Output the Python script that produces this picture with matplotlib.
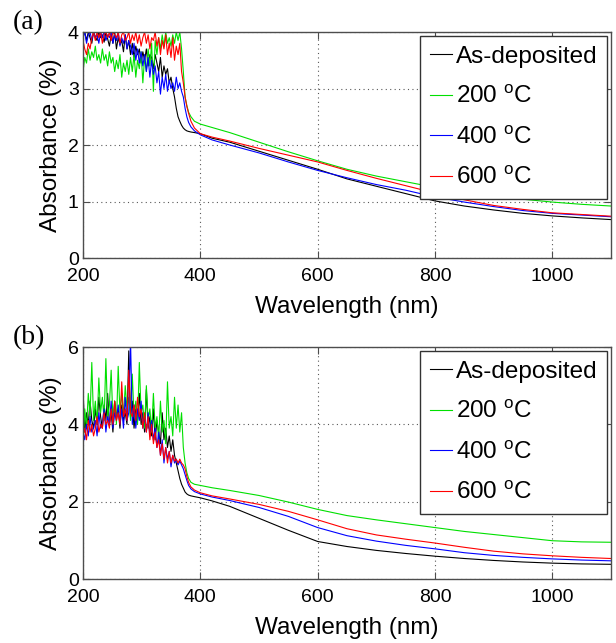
import numpy as np
import matplotlib
matplotlib.use("Agg")
import matplotlib.pyplot as plt

plt.rcParams['font.family'] = ['Liberation Sans', 'DejaVu Sans']
plt.rcParams['mathtext.fontset'] = 'custom'
plt.rcParams['mathtext.rm'] = 'Liberation Sans'

# noisy UV part (200-371 nm, step 3) and smooth part (374-1100 nm)
wl_noisy = list(range(200, 372, 3))
wl_smooth = [374, 377, 380, 384, 390, 400, 420, 450, 500, 550, 600, 650,
             700, 750, 800, 850, 900, 950, 1000, 1050, 1100]

labels = ['As-deposited', '200 $^{\\mathrm{o}}$C', '400 $^{\\mathrm{o}}$C', '600 $^{\\mathrm{o}}$C']
colors = ['black', '#00e000', '#0000ff', '#ff0000']

# ---- panel (a)
a_dep_noisy = [3.95, 4.0, 3.85, 4.0, 3.9, 3.8, 4.0, 3.92, 3.85, 4.0,
               3.9, 3.95, 3.82, 4.0, 3.88, 3.75, 3.95, 3.8, 4.0, 3.7,
               3.9, 3.78, 3.85, 3.65, 3.95, 3.7, 3.85, 3.6, 3.8, 3.55,
               3.75, 3.6, 3.7, 3.45, 3.65, 3.5, 3.7, 3.4, 3.6, 3.55,
               3.35, 3.6, 3.45, 3.3, 3.55, 3.2, 3.4, 3.25, 3.35, 3.1,
               3.2, 3.0, 2.85, 2.65, 2.5, 2.42, 2.35, 2.3]
a_dep_smooth = [2.27, 2.25, 2.24, 2.23, 2.22, 2.2, 2.12, 2.05, 1.89, 1.73, 1.57, 1.4,
                1.27, 1.14, 1.01, 0.92, 0.85, 0.79, 0.745, 0.71, 0.68]
a_200_noisy = [3.3, 3.55, 3.45, 3.7, 3.5, 3.65, 3.55, 3.75, 3.5, 3.6,
               3.45, 3.7, 3.5, 3.6, 3.4, 3.65, 3.45, 3.55, 3.3, 3.5,
               3.35, 3.6, 3.2, 3.45, 3.3, 3.5, 3.25, 3.55, 3.3, 3.6,
               3.2, 3.5, 3.35, 3.65, 3.1, 3.55, 3.3, 3.7, 3.4, 3.8,
               2.95, 3.85, 3.6, 3.9, 3.7, 3.95, 3.75, 4.0, 3.8, 3.9,
               3.75, 3.95, 3.8, 4.0, 3.85, 4.0, 3.7, 3.3]
a_200_smooth = [2.85, 2.7, 2.58, 2.5, 2.42, 2.37, 2.31, 2.22, 2.05, 1.88, 1.72, 1.57,
                1.45, 1.35, 1.25, 1.17, 1.1, 1.04, 0.99, 0.95, 0.92]
a_400_noisy = [3.9, 4.0, 3.8, 3.95, 4.0, 3.85, 4.0, 3.9, 3.95, 3.8,
               4.0, 3.9, 4.0, 3.85, 3.95, 3.9, 4.0, 3.8, 3.95, 3.85,
               4.0, 3.75, 3.9, 3.8, 3.95, 3.7, 3.85, 3.75, 3.6, 3.8,
               3.5, 3.7, 3.45, 3.65, 3.4, 3.6, 3.3, 3.55, 3.2, 3.5,
               3.25, 3.4, 3.1, 3.3, 2.9, 3.2, 3.0, 3.25, 2.95, 3.15,
               3.0, 3.1, 2.95, 3.2, 3.0, 3.1, 2.95, 2.85]
a_400_smooth = [2.65, 2.5, 2.4, 2.32, 2.25, 2.18, 2.09, 2.0, 1.86, 1.7, 1.55, 1.42,
                1.3, 1.2, 1.08, 0.99, 0.91, 0.84, 0.79, 0.76, 0.73]
a_600_noisy = [3.85, 3.7, 3.6, 3.8, 3.7, 3.9, 4.0, 3.85, 4.0, 3.9,
               4.0, 3.8, 3.95, 4.0, 3.9, 4.0, 3.85, 4.0, 3.95, 3.9,
               4.0, 3.8, 3.95, 4.0, 3.85, 3.9, 4.0, 3.8, 3.95, 3.85,
               4.0, 3.8, 3.95, 3.75, 3.9, 4.0, 3.8, 3.95, 3.7, 3.9,
               3.85, 4.0, 3.75, 3.9, 3.6, 3.85, 3.7, 3.95, 3.6, 3.8,
               3.55, 3.9, 3.5, 3.75, 3.6, 3.8, 3.3, 3.1]
a_600_smooth = [2.85, 2.68, 2.56, 2.42, 2.3, 2.2, 2.14, 2.07, 1.94, 1.82, 1.7, 1.55,
                1.41, 1.28, 1.15, 1.03, 0.93, 0.86, 0.8, 0.77, 0.74]

# ---- panel (b)
b_dep_noisy = [4.9, 3.8, 4.3, 4.0, 4.6, 4.1, 3.9, 4.4, 4.0, 4.7,
               4.2, 3.9, 4.5, 4.1, 4.8, 4.0, 4.3, 3.8, 4.6, 4.2,
               4.4, 3.9, 4.5, 4.1, 4.3, 4.0, 5.9, 4.2, 4.6, 3.9,
               4.4, 4.1, 4.8, 4.0, 4.3, 3.8, 4.9, 3.9, 4.2, 3.7,
               4.4, 3.6, 4.1, 3.8, 3.5, 4.3, 3.6, 3.9, 3.4, 3.7,
               3.3, 3.6, 3.2, 3.0, 2.8, 2.6, 2.45, 2.35]
b_dep_smooth = [2.25, 2.2, 2.17, 2.15, 2.13, 2.1, 2.02, 1.88, 1.57, 1.26, 0.97, 0.84,
                0.74, 0.66, 0.59, 0.53, 0.48, 0.44, 0.41, 0.39, 0.38]
b_200_noisy = [3.4, 4.4, 3.9, 4.8, 4.2, 5.6, 4.1, 4.6, 4.0, 5.2,
               4.3, 4.7, 4.1, 5.7, 4.2, 4.5, 5.4, 4.1, 4.6, 4.0,
               5.5, 4.3, 4.8, 4.2, 5.0, 4.4, 4.7, 4.1, 5.3, 4.2,
               4.6, 4.0, 5.6, 4.3, 4.5, 3.9, 5.0, 4.1, 4.4, 3.8,
               4.8, 3.9, 4.2, 3.6, 4.6, 3.8, 4.1, 3.5, 5.1, 3.9,
               4.2, 3.7, 4.7, 3.9, 4.5, 3.8, 4.3, 3.4]
b_200_smooth = [3.0, 2.75, 2.6, 2.5, 2.45, 2.42, 2.36, 2.29, 2.16, 1.99, 1.8, 1.64,
                1.53, 1.43, 1.33, 1.23, 1.15, 1.07, 0.99, 0.96, 0.95]
b_400_noisy = [3.8, 3.6, 4.0, 3.7, 4.2, 3.8, 3.9, 4.1, 3.7, 4.3,
               3.9, 4.0, 4.4, 3.8, 4.2, 4.0, 4.6, 3.9, 4.3, 4.1,
               4.5, 4.0, 4.4, 3.9, 4.7, 4.1, 4.3, 6.2, 4.0, 4.5,
               3.9, 4.4, 4.1, 4.6, 3.9, 4.2, 3.8, 4.3, 3.7, 4.1,
               3.6, 3.9, 3.4, 3.8, 3.2, 3.6, 3.0, 3.4, 3.1, 3.3,
               2.9, 3.2, 3.0, 3.1, 2.95, 3.05, 2.95, 2.85]
b_400_smooth = [2.7, 2.55, 2.42, 2.33, 2.26, 2.2, 2.12, 2.03, 1.85, 1.62, 1.33, 1.12,
                0.98, 0.87, 0.78, 0.68, 0.61, 0.56, 0.52, 0.49, 0.47]
b_600_noisy = [3.7, 3.9, 3.6, 4.1, 3.8, 4.0, 3.7, 3.9, 4.2, 3.8,
               4.0, 3.9, 4.3, 4.0, 4.1, 3.9, 4.4, 4.0, 4.6, 4.1,
               4.3, 4.0, 5.1, 4.2, 4.4, 4.1, 5.4, 4.3, 4.2, 4.5,
               4.1, 4.7, 4.2, 4.4, 3.9, 4.3, 3.8, 4.2, 3.6, 4.0,
               3.5, 3.8, 3.4, 3.6, 3.2, 3.5, 3.1, 3.4, 3.0, 3.3,
               3.0, 3.2, 3.05, 3.1, 3.0, 3.1, 3.0, 2.95]
b_600_smooth = [2.85, 2.65, 2.5, 2.38, 2.3, 2.23, 2.15, 2.07, 1.93, 1.75, 1.53, 1.3,
                1.14, 1.03, 0.93, 0.82, 0.72, 0.65, 0.6, 0.56, 0.53]

panels = [
    ('(a)', 4, [0, 1, 2, 3, 4],
     [(a_dep_noisy, a_dep_smooth), (a_200_noisy, a_200_smooth),
      (a_400_noisy, a_400_smooth), (a_600_noisy, a_600_smooth)]),
    ('(b)', 6, [0, 2, 4, 6],
     [(b_dep_noisy, b_dep_smooth), (b_200_noisy, b_200_smooth),
      (b_400_noisy, b_400_smooth), (b_600_noisy, b_600_smooth)]),
]

W, H = 616, 643
fig = plt.figure(figsize=(W / 100, H / 100), dpi=100)

# axes boxes in pixels: left, top, right, bottom
boxes = [(83, 32, 611, 258), (83, 347, 611, 579)]
spine_c = '0.3'

wl = wl_noisy + wl_smooth
for (tag, ymax, yt, series), (l, t, r, b) in zip(panels, boxes):
    ax = fig.add_axes([l / W, 1 - b / H, (r - l) / W, (b - t) / H])
    for (noisy, smooth), c, lab in zip(series, colors, labels):
        ax.plot(wl, noisy + smooth, color=c, lw=0.8, label=lab)
    ax.set_xlim(200, 1100)
    ax.set_ylim(0, ymax)
    ax.set_xticks([200, 400, 600, 800, 1000])
    ax.set_yticks(yt)
    ax.grid(True, color='0.35', linestyle=(0, (1, 3)), linewidth=0.8)
    ax.tick_params(direction='in', length=5, width=0.8, color=spine_c,
                   top=True, right=True, labelsize=14, pad=7)
    ax.tick_params(axis='y', pad=3)
    for s in ax.spines.values():
        s.set_color(spine_c)
        s.set_linewidth(1.0)
    ax.set_xlabel('Wavelength (nm)', fontsize=17.5, labelpad=8)
    ax.set_ylabel('Absorbance (%)', fontsize=17.5, labelpad=4)
    leg = ax.legend(loc='upper right', fontsize=17.5, fancybox=False,
                    framealpha=1, edgecolor='0.2', borderaxespad=0.17,
                    borderpad=0.4, handlelength=0.9, handletextpad=0.15,
                    labelspacing=0.72)
    leg.get_frame().set_linewidth(1.0)
    fig.text(13 / W, 1 - (t - 9) / H, tag, fontsize=20, va='center', ha='left',
             family=['Liberation Serif', 'DejaVu Serif'])

fig.savefig('out.png', dpi=100)
